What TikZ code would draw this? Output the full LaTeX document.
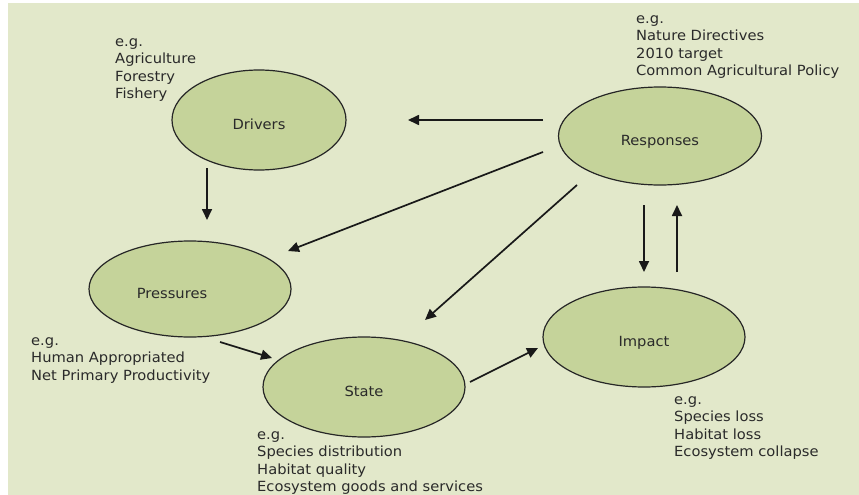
\documentclass[tikz,border=0pt]{standalone}
\usepackage{fontspec}
\setmainfont[FakeStretch=1.05]{DejaVu Sans}
\usetikzlibrary{shapes.geometric,arrows.meta}
\definecolor{bgcol}{HTML}{E2E8CA}
\definecolor{ellfill}{HTML}{C5D39A}
\definecolor{txtcol}{HTML}{2A2A2A}
\begin{document}
\begin{tikzpicture}[x=1pt,y=-1pt,
  font=\fontsize{14}{17.5}\selectfont,
  ell/.style={ellipse, draw=black!85, line width=1.2pt, fill=ellfill, inner sep=0pt,
              text=txtcol, text height=18pt, text depth=0pt},
  note/.style={anchor=north west, inner sep=0pt, align=left, text=txtcol},
  arr/.style={line width=1.7pt, draw=black!90, -{Triangle[length=11pt,width=10pt]}}]
\fill[white] (0,0) rectangle (859,495);
\useasboundingbox (0,0) rectangle (859,495);
\fill[bgcol] (8,3) rectangle (859,495);

% ellipses
\node[ell, minimum width=174pt, minimum height=100pt] (drivers) at (259,120) {Drivers};
\node[ell, minimum width=203pt, minimum height=98pt] (resp) at (660,136) {Responses};
\node[ell, minimum width=202pt, minimum height=96pt] (press) at (190,289) {\hspace*{-36pt}Pressures};
\node[ell, minimum width=202pt, minimum height=100pt] (state) at (364,387) {State};
\node[ell, minimum width=202pt, minimum height=100pt] (impact) at (644,337) {Impact};

% example notes
\node[note] (ndrivers) at (115,33.75) {\strut e.g.\\Agriculture\\Forestry\\Fishery};
\node[note] (nresp) at (636,10.75) {\strut e.g.\\Nature Directives\\2010 target\\Common Agricultural Policy};
\node[note] (npress) at (31,332.75) {\strut e.g.\\Human Appropriated\\Net Primary Productivity};
\node[note] (nstate) at (257,426.75) {\strut e.g.\\Species distribution\\Habitat quality\\Ecosystem goods and services};
\node[note] (nimpact) at (674,391.75) {\strut e.g.\\Species loss\\Habitat loss\\Ecosystem collapse};

% connector end points
\coordinate (r2d-s) at (543,120);  \coordinate (r2d-e) at (408,120);
\coordinate (r2p-s) at (543,152);  \coordinate (r2p-e) at (288,251);
\coordinate (r2s-s) at (577,185);  \coordinate (r2s-e) at (425,320);
\coordinate (d2p-s) at (207,168);  \coordinate (d2p-e) at (207,220);
\coordinate (p2s-s) at (220,342);  \coordinate (p2s-e) at (272,358);
\coordinate (s2i-s) at (470,382);  \coordinate (s2i-e) at (538,348);
\coordinate (r2i-s) at (644,205);  \coordinate (r2i-e) at (644,272);
\coordinate (i2r-s) at (677,272);  \coordinate (i2r-e) at (677,205);

\draw[arr] (r2d-s) -- (r2d-e);
\draw[arr] (r2p-s) -- (r2p-e);
\draw[arr] (r2s-s) -- (r2s-e);
\draw[arr] (d2p-s) -- (d2p-e);
\draw[arr] (p2s-s) -- (p2s-e);
\draw[arr] (s2i-s) -- (s2i-e);
\draw[arr] (r2i-s) -- (r2i-e);
\draw[arr] (i2r-s) -- (i2r-e);
\end{tikzpicture}
\end{document}
